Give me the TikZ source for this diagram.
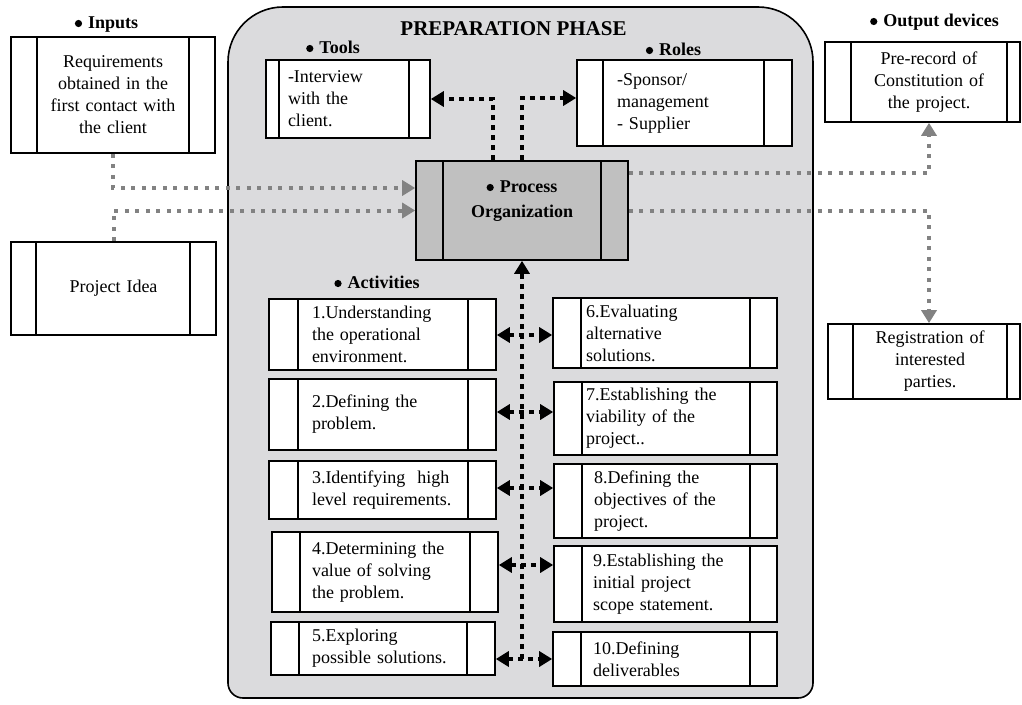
\documentclass[tikz,border=0pt]{standalone}
\usepackage{fontspec}
\setmainfont{Liberation Serif}
\usetikzlibrary{arrows.meta}

\definecolor{phasefill}{RGB}{219,219,221}
\definecolor{procfill}{RGB}{192,192,192}
\definecolor{flowgray}{RGB}{130,130,130}

% round bullet in front of the headings
\newcommand{\dotmark}{\tikz[baseline=0pt]\fill[black] (0,4.5pt) circle[radius=3.6pt];\hspace{6pt}}

\tikzset{
  % two vertical strips inside a box, #1 from the left, #2 from the right
  strips/.style 2 args={path picture={
      \draw[line width=1.6pt] ([xshift=#1]path picture bounding box.south west) -- ([xshift=#1]path picture bounding box.north west);
      \draw[line width=1.6pt] ([xshift=-#2]path picture bounding box.south east) -- ([xshift=-#2]path picture bounding box.north east);}},
  % box: width, height, left strip, right strip
  box/.style n args={4}{draw, line width=1.6pt, fill=white, rectangle, inner sep=0pt,
      text width=#1, minimum height=#2, strips={#3}{#4},
      font=\fontsize{18pt}{22pt}\selectfont},
  lpad/.style={align=left, execute at begin node={\leftskip=#1\relax}},
  cpad/.style 2 args={align=center,
      execute at begin node={\leftskip=#1 plus 1fil\rightskip=#2 plus 1fil\parfillskip=0pt\relax}},
  head/.style={inner sep=0pt, anchor=base, font=\bfseries\fontsize{18pt}{22pt}\selectfont},
  >={Triangle[length=13pt,width=15pt]},
  blk/.style={black, line width=4.5pt, dash pattern=on 5pt off 5pt},
  gry/.style={flowgray, line width=4pt, dash pattern=on 4pt off 6.5pt},
}

\begin{document}
\begin{tikzpicture}[x=1pt,y=1pt]
\useasboundingbox (0,0) rectangle (1022,-704);

% the preparation phase panel
\draw[line width=1.6pt, fill=phasefill]
  (228,-683) -- (228,-62) arc[start angle=180, end angle=90, radius=55pt]
  -- (758,-7) arc[start angle=90, end angle=0, radius=55pt]
  -- (813,-683) arc[start angle=0, end angle=-90, radius=15pt]
  -- (243,-698) arc[start angle=270, end angle=180, radius=15pt] -- cycle;

\node[head, font=\bfseries\fontsize{21pt}{24pt}\selectfont] (title) at (513.5,-35) {PREPARATION PHASE};

% headings
\node[head] (hIn)    at (106.5,-28) {\dotmark Inputs};
\node[head] (hTools) at (333,-53)   {\dotmark Tools};
\node[head] (hRoles) at (673.5,-55) {\dotmark Roles};
\node[head] (hOut)   at (934.5,-26) {\dotmark Output devices};
\node[head] (hAct)   at (377,-288)  {\dotmark Activities};

% inputs
\node[box={204pt}{116pt}{26pt}{26pt}, align=center] (inA) at (113,-95)
  {Requirements\\obtained in the\\first contact with\\the client};
\node[box={205pt}{93pt}{25pt}{26pt}, align=center] (inB) at (113.5,-288.5)
  {Project Idea};

% tools and roles
\node[box={164pt}{78pt}{13pt}{21pt}, lpad=22pt] (tools) at (348,-99)
  {-Interview\\with the\\client.};
\node[box={215pt}{86pt}{26pt}{28pt}, lpad=40pt] (roles) at (684.5,-103)
  {-Sponsor/\\management\\- Supplier};

% central process
\node[box={212pt}{99pt}{27pt}{27pt}, fill=procfill, align=center,
      font=\bfseries\fontsize{18pt}{25pt}\selectfont, text height=13pt, text depth=50pt]
  (proc) at (522,-210.5) {\dotmark Process\\Organization};

% outputs
\node[box={195pt}{80pt}{26pt}{13pt}, cpad={26pt}{13pt}] (out1) at (922.5,-82)
  {Pre-record of\\Constitution of\\the project.};
\node[box={192pt}{75pt}{25pt}{13pt}, cpad={25pt}{13pt}] (out2) at (924,-361.5)
  {Registration of\\interested\\parties.};

% activities, left column
\node[box={227pt}{71pt}{29pt}{28pt}, lpad=43pt] (a1) at (382.5,-334.5)
  {1.Understanding\\the operational\\environment.};
\node[box={227pt}{71pt}{29pt}{28pt}, lpad=43pt] (a2) at (382.5,-414.5)
  {2.Defining the\\problem.};
\node[box={227pt}{58pt}{29pt}{28pt}, lpad=43pt] (a3) at (382.5,-490)
  {3.Identifying\ \ high\\level requirements.};
\node[box={226pt}{80pt}{28pt}{28pt}, lpad=40pt] (a4) at (385,-572)
  {4.Determining the\\value of solving\\the problem.};
\node[box={224pt}{53pt}{28pt}{28pt}, lpad=41pt] (a5) at (383,-648.5)
  {5.Exploring\\possible solutions.};

% activities, right column
\node[box={224pt}{70pt}{28pt}{27pt}, lpad=33pt] (b6) at (665,-333)
  {6.Evaluating\\alternative\\solutions.};
\node[box={223pt}{73pt}{28pt}{27pt}, lpad=32pt] (b7) at (665.5,-418.5)
  {7.Establishing the\\viability of the\\project..};
\node[box={223pt}{74pt}{28pt}{27pt}, lpad=40pt] (b8) at (665.5,-501)
  {8.Defining the\\objectives of the\\project.};
\node[box={223pt}{76pt}{28pt}{27pt}, lpad=39pt] (b9) at (665.5,-584)
  {9.Establishing the\\initial project\\scope statement.};
\node[box={224pt}{54pt}{28pt}{27pt}, lpad=40pt] (b10) at (665,-659)
  {10.Defining\\deliverables};

% row levels of the activity links
\coordinate (r1) at (522,-335);
\coordinate (r2) at (522,-412);
\coordinate (r3) at (522,-488);
\coordinate (r4) at (522,-565);
\coordinate (r5) at (522,-659);

% black links
\draw[blk,->] ([xshift=-29pt]proc.north) |- (tools.east);
\draw[blk,->] (proc.north) |- ([yshift=5pt]roles.west);
\draw[blk,->] (r5) -- (proc.south);
\draw[blk,<->] (a1.east |- r1) -- (b6.west |- r1);
\draw[blk,<->] (a2.east |- r2) -- (b7.west |- r2);
\draw[blk,<->] (a3.east |- r3) -- (b8.west |- r3);
\draw[blk,<->] (a4.east |- r4) -- (b9.west |- r4);
\draw[blk,<->] (a5.east |- r5) -- (b10.west |- r5);

% gray flows
\draw[gry,->] (inA.south) |- ([yshift=22.5pt]proc.west);
\draw[gry,->] (inB.north) |- (proc.west);
\draw[gry,->] ([yshift=37.5pt]proc.east) -| ([xshift=6.5pt]out1.south);
\draw[gry,->] (proc.east) -| ([xshift=5pt]out2.north);
\end{tikzpicture}
\end{document}
